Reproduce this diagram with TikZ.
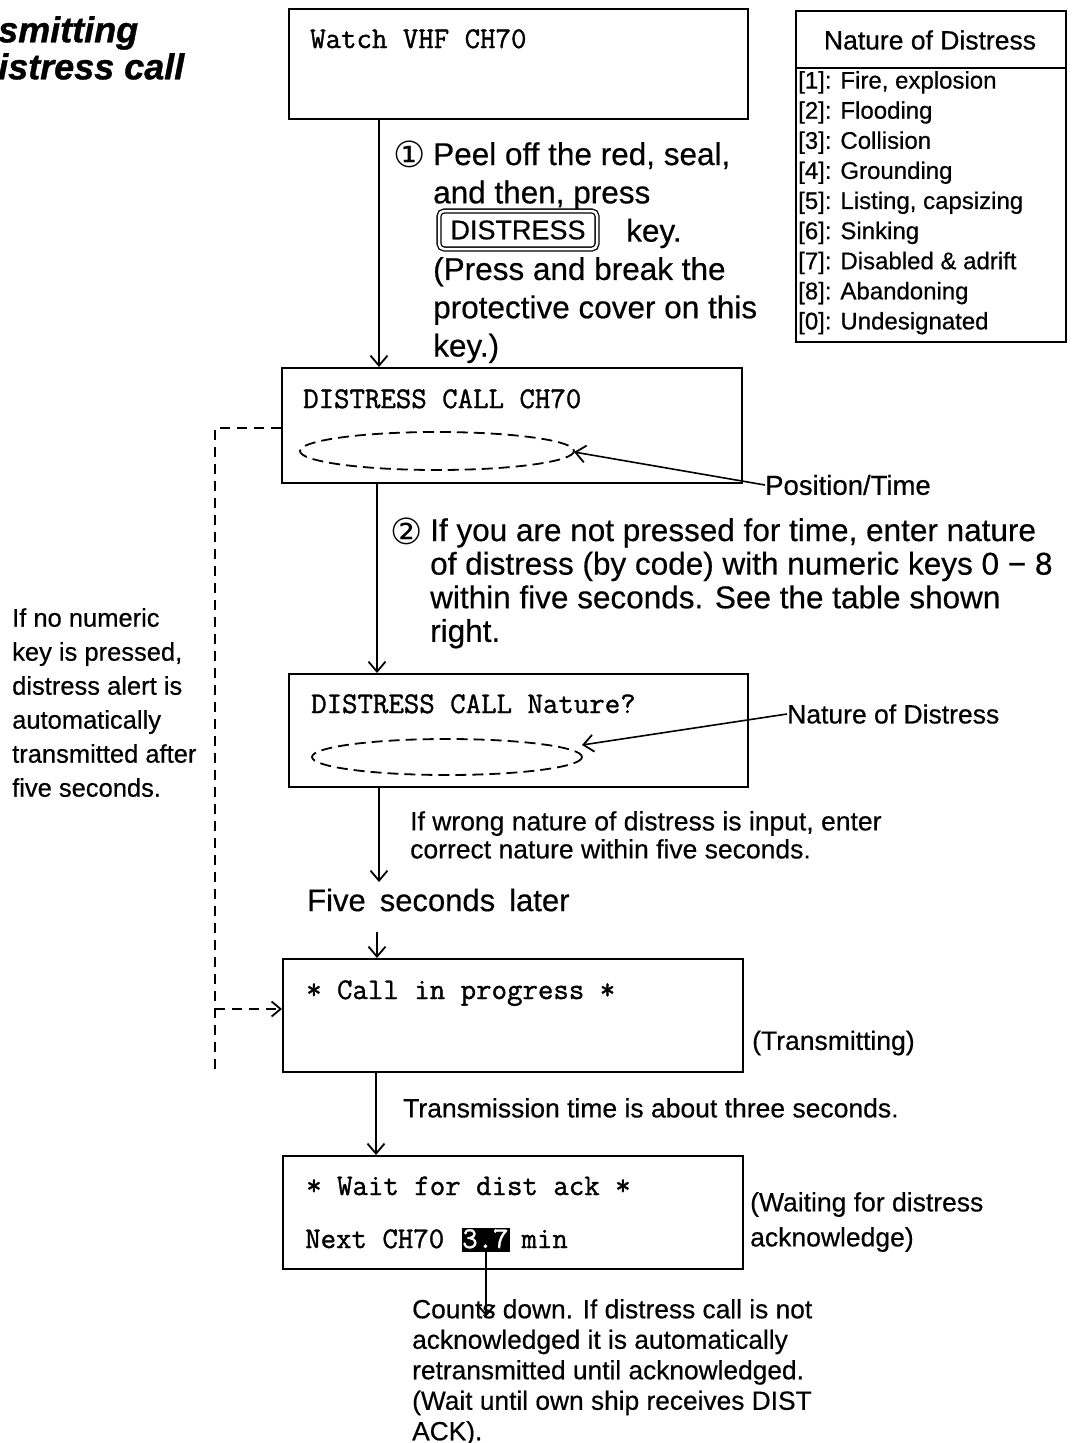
\documentclass[tikz,border=0pt]{standalone}
\usepackage{fontspec}
\setmainfont{Liberation Sans}[FakeBold=0.5]
\newfontfamily\dejavu{DejaVu Sans}
\newfontfamily\monofnt{Latin Modern Mono}[FakeBold=1.2]
\newfontfamily\titlefnt{Liberation Sans}[FakeBold=1]
\usetikzlibrary{arrows.meta,calc}
\tikzset{
  box/.style={draw, line width=1.8pt, anchor=north west, inner sep=0pt},
  mono/.style={font=\monofnt\fontsize{30}{34}\selectfont, anchor=base west, inner sep=0pt},
  big/.style={font=\fontsize{31.5}{38.3}\selectfont, align=left, anchor=north west, inner sep=0pt},
  bigb/.style={font=\fontsize{31.5}{33.6}\selectfont, align=left, anchor=north west, inner sep=0pt},
  small/.style={font=\fontsize{25.5}{34}\selectfont, align=left, anchor=north west, inner sep=0pt},
  note/.style={font=\fontsize{26.5}{28}\selectfont, align=left, anchor=north west, inner sep=0pt},
  lbl/.style={font=\fontsize{26.5}{28}\selectfont, anchor=west, inner sep=0pt},
  tbl/.style={font=\fontsize{24}{30.1}\selectfont, align=left, anchor=north west, inner sep=0pt},
  arr/.style={line width=1.6pt, -{Straight Barb[length=10pt,width=17pt,line width=1.8pt]}},
  dsh/.style={line width=1.6pt, dash pattern=on 10pt off 7pt},
  ell/.style={line width=1.8pt, dash pattern=on 11pt off 6pt},
}
\begin{document}
\begin{tikzpicture}[x=1pt,y=-1pt]
\useasboundingbox (0,0) rectangle (1073,1443);
% title
\node[font=\titlefnt\bfseries\itshape\fontsize{36}{37}\selectfont, align=left, anchor=north west, inner sep=0pt] (title) at (-2,16) {smitting\\istress call};
% boxes
\node[box, minimum width=459pt, minimum height=110pt] (b1) at (288,8) {};
\node[box, minimum width=460pt, minimum height=115pt] (b2) at (281,367) {};
\node[box, minimum width=459pt, minimum height=113pt] (b3) at (288,673) {};
\node[box, minimum width=460pt, minimum height=113pt] (b4) at (282,958) {};
\node[box, minimum width=460pt, minimum height=113pt] (b5) at (282,1155) {};
% box texts
\node[mono] (t1) at (310,48) {Watch VHF CH70};
\node[mono] (t2) at (303,408) {DISTRESS CALL CH70};
\node[mono] (t3) at (311,713) {DISTRESS CALL Nature?};
\node[mono] (t4) at (306,999) {* Call in progress *};
\node[mono] (t5) at (306,1195) {* Wait for dist ack *};
\node[mono] (t6) at (305,1248) {Next CH70 \phantom{3.7} min};
\node[fill=black, anchor=north west, minimum width=48pt, minimum height=24pt, inner sep=0pt] (hl) at (462,1228) {};
\node[mono, text=white] (t7) at (462,1248) {3.7};
% ellipses
\draw[ell] (437,451) ellipse [x radius=137, y radius=19];
\coordinate (e1) at (574,452);
\draw[ell] (447,757) ellipse [x radius=135, y radius=18];
\coordinate (e2) at (582,745);
% table
\node[box, minimum width=270pt, minimum height=331pt] (tab) at (795,10) {};
\draw[line width=1.6pt] (795,68) -- (1065,68);
\node[font=\fontsize{26.5}{28}\selectfont, inner sep=0pt] (th) at (930,40) {Nature of Distress};
\node[tbl] (tr) at (798,71) {{[1]}: Fire, explosion\\ {[2]}: Flooding\\ {[3]}: Collision\\ {[4]}: Grounding\\ {[5]}: Listing, capsizing\\ {[6]}: Sinking\\ {[7]}: Disabled \& adrift\\ {[8]}: Abandoning\\ {[0]}: Undesignated};
% step 1
\node[font=\dejavu\fontsize{36}{38}\selectfont, inner sep=0pt] (c1) at (410,154) {①};
\node[big] (s1) at (433,142) {Peel off the red, seal,\\ and then, press\\ \hspace*{193pt}key.\\ (Press and break the\\ protective cover on this\\ key.)};
\node[draw, double, double distance=2.5pt, line width=1.3pt, rounded corners=5pt, minimum width=158pt, minimum height=38pt, inner sep=0pt, font=\fontsize{27}{30}\selectfont] (key) at (518,230) {DISTRESS};
% step 2
\node[font=\dejavu\fontsize{36}{38}\selectfont, inner sep=0pt] (c2) at (407,531) {②};
\node[bigb] (s2) at (430,518) {If you are not pressed for time, enter nature\\ of distress (by code) with numeric keys 0 − 8\\ within five seconds. See the table shown\\ right.};
% labels
\node[font=\fontsize{27.5}{28}\selectfont, anchor=west, inner sep=0pt] (pt) at (765,485) {Position/Time};
\node[lbl] (nd) at (787,714) {Nature of Distress};
\node[note] (wr) at (410,811) {If wrong nature of distress is input, enter\\ correct nature within five seconds.};
\node[font=\fontsize{31}{32}\selectfont, anchor=west, inner sep=0pt] (fs) at (307,900) {Five\hspace{14pt}seconds\hspace{14pt}later};
\node[small] (ln) at (12,608) {If no numeric\\ key is pressed,\\ distress alert is\\ automatically\\ transmitted after\\ five seconds.};
\node[lbl] (tx) at (752,1043) {(Transmitting)};
\node[note] (tt) at (403,1098) {Transmission time is about three seconds.};
\node[font=\fontsize{26.5}{35}\selectfont, align=left, anchor=north west, inner sep=0pt] (wa) at (750,1192) {(Waiting for distress\\ acknowledge)};
\node[font=\fontsize{26.3}{30.5}\selectfont, align=left, anchor=north west, inner sep=0pt] (cd) at (412,1299) {Counts down. If distress call is not\\ acknowledged it is automatically\\ retransmitted until acknowledged.\\ (Wait until own ship receives DIST\\ ACK).};
% coordinates
\coordinate (x1) at (379,0);
\coordinate (x2) at (377,0);
\coordinate (x3) at (379,0);
\coordinate (x5) at (376,0);
\coordinate (fsa) at (379,882);
\coordinate (fsb) at (377,932);
\coordinate (dl) at (215,428);
\coordinate (dlb) at (215,1070);
\coordinate (dm) at (215,1009);
% connectors
\draw[arr] (b1.south -| x1) -- (b2.north -| x1);
\draw[arr] (b2.south -| x2) -- (b3.north -| x2);
\draw[arr] (b3.south -| x3) -- (fsa);
\draw[arr] (fsb) -- (b4.north -| fsb);
\draw[arr] (b4.south -| x5) -- (b5.north -| x5);
\draw[arr] (hl.south) -- ++(0,64);
\draw[arr] (pt.west) -- (e1);
\draw[arr] (nd.west) -- (e2);
\draw[dsh] (b2.west |- dl) -- (dl) -- (dlb);
\draw[dsh, -{Straight Barb[length=9pt,width=15pt,line width=1.8pt]}] (dm) -- (b4.west |- dm);
\end{tikzpicture}
\end{document}
